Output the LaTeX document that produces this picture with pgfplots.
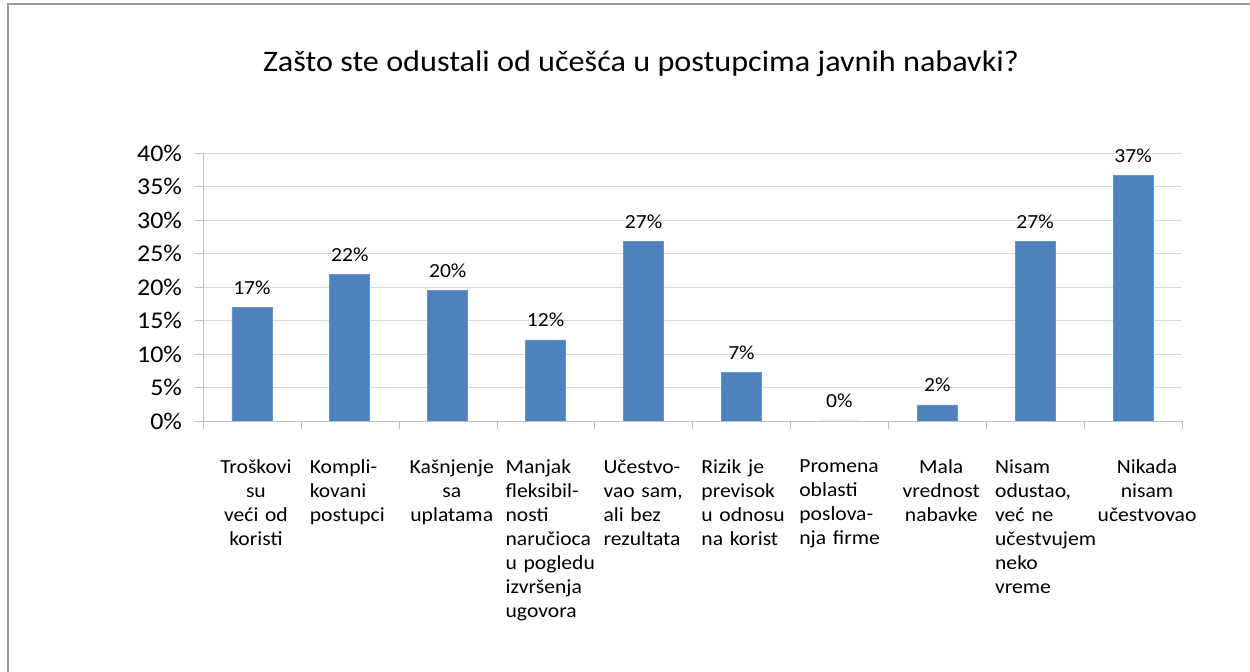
\documentclass[border=0pt]{standalone}
\usepackage{fontspec}
\setmainfont{Carlito}[FakeStretch=1.08]
\usepackage{pgfplots}
\pgfplotsset{compat=1.18}
\usepackage{pgfplotstable}
\definecolor{barblue}{HTML}{4F81BD}
\definecolor{gridgray}{HTML}{D9D9D9}
\definecolor{axgray}{HTML}{BFBFBF}
\definecolor{framegray}{HTML}{9A9A9A}

% udeo odgovora (%), oznaka iznad stuba
\pgfplotstableread{
x y lab
0 16.9 17
1 21.9 22
2 19.5 20
3 12.1 12
4 26.8 27
5 7.2 7
6 0 0
7 2.4 2
8 26.8 27
9 36.6 37
}\razlozi

\newcommand{\cl}[1]{\parbox[t]{44pt}{\centering #1}}
\newcommand{\nb}[1]{\mbox{#1}}

\begin{document}
\begin{tikzpicture}
\useasboundingbox (0,0) rectangle (625pt,336pt);
\draw[framegray, line width=1pt] (3.75pt,0) -- (3.75pt,333.75pt) -- (625pt,333.75pt);
\node[font=\fontsize{14.9}{18}\selectfont] at (320.5pt,304pt)
  {Zašto ste odustali od učešća u postupcima javnih nabavki?};
\begin{axis}[
  at={(101.5pt,125.5pt)}, anchor=south west,
  scale only axis, width=489.5pt, height=134pt,
  ybar, bar width=20pt,
  xmin=-0.5, xmax=9.5, ymin=0, ymax=40,
  axis lines*=left,
  axis line style={axgray},
  tick align=outside,
  major tick length=4pt,
  tick style={axgray},
  ytick={0,5,...,40},
  yticklabel={\pgfmathprintnumber{\tick}\%},
  yticklabel style={font=\fontsize{12}{13}\selectfont, xshift=-3pt},
  /pgf/number format/assume math mode=true,
  ymajorgrids, grid style={gridgray},
  xtick={-0.5,0.5,...,9.5},
  xticklabels={},
  extra x ticks={0,1,...,9},
  extra x tick style={major tick length=0pt, grid=none},
  extra x tick labels={
    {\cl{Troškovi\\su\\\nb{veći od}\\koristi}},
    {Kompli-\\kovani\\postupci},
    {\cl{Kašnjenje\\sa\\uplatama}},
    {Manjak\\fleksibil-\\nosti\\naručioca\\\nb{u pogledu}\\izvršenja\\ugovora},
    {Učestvo-\\\nb{vao sam,}\\\nb{ali bez}\\rezultata},
    {\nb{Rizik je}\\previsok\\\nb{u odnosu}\\\nb{na korist}},
    {Promena\\oblasti\\poslova-\\\nb{nja firme}},
    {\cl{Mala\\vrednost\\nabavke}},
    {Nisam\\odustao,\\\nb{već ne}\\učestvujem\\neko\\vreme},
    {\hspace*{1pt}\parbox[t]{52pt}{\centering Nikada\\nisam\\učestvovao}}
  },
  xticklabel style={font=\fontsize{10}{12}\selectfont,
    text width=44pt, align=left, anchor=north, yshift=-16pt, xshift=2pt},
  point meta=explicit symbolic,
  nodes near coords={\pgfplotspointmeta\%},
  nodes near coords style={font=\fontsize{10}{11}\selectfont, anchor=south, yshift=3pt},
]
\addplot[fill=barblue, draw=barblue!85!white, line width=0.4pt]
  table[x=x, y=y, meta=lab] {\razlozi};
\end{axis}
\end{tikzpicture}
\end{document}
